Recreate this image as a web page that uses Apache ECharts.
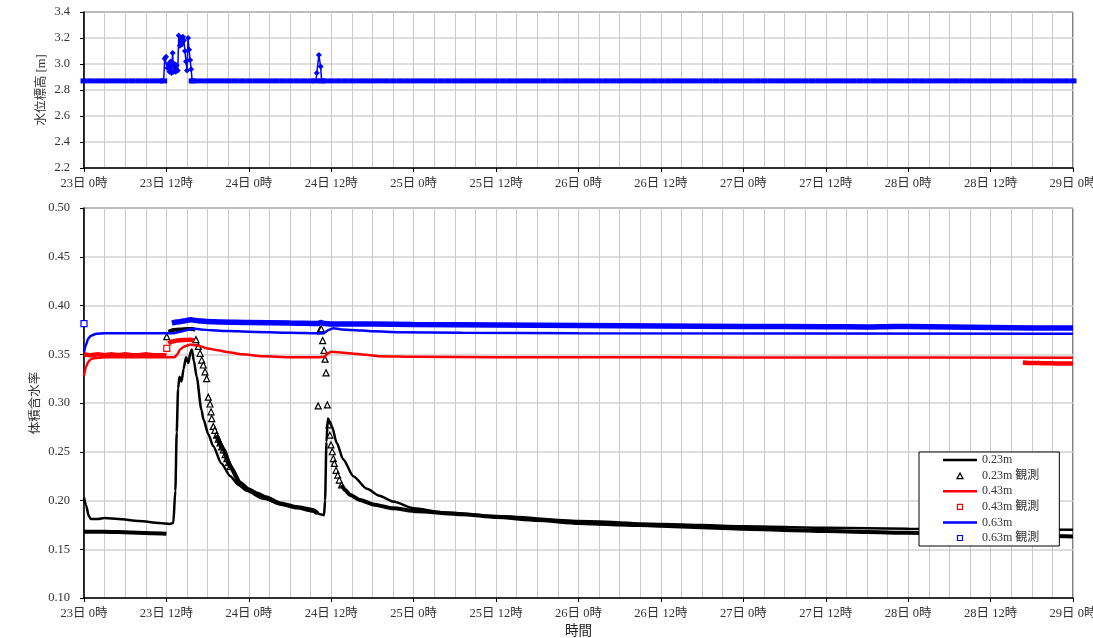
<!DOCTYPE html>
<html><head><meta charset="utf-8">
<script src="https://cdn.jsdelivr.net/npm/echarts@6/dist/echarts.min.js"></script>
<style>html,body{margin:0;padding:0;background:#fff;overflow:hidden}#c{width:1093px;height:638px}</style>
</head><body><div id="c"></div>
<script>
// ---- tick labels ----
const xTickLabels = ['23日 0時','23日 12時','24日 0時','24日 12時','25日 0時','25日 12時','26日 0時','26日 12時','27日 0時','27日 12時','28日 0時','28日 12時','29日 0時'];
const seriesNames = ['0.23m','0.23m 観測','0.43m','0.43m 観測','0.63m','0.63m 観測'];

// ---- water level [hours since 23日 0時, m] ----
const levelObs = [
[0,2.87],[1,2.87],[2,2.87],[3,2.87],[4,2.87],[5,2.87],[6,2.87],[7,2.87],[8,2.87],[9,2.87],[10,2.87],[11,2.87],
[11.6,2.87],[11.75,3.04],[11.95,3.055],[12.15,2.97],[12.3,3.0],[12.45,2.94],[12.6,3.02],[12.75,2.93],[12.9,3.085],[13.05,2.94],[13.2,3.0],[13.35,2.94],[13.5,2.99],[13.65,2.95],[13.8,3.22],[13.95,3.14],[14.1,3.2],[14.25,3.15],[14.4,3.21],[14.55,3.18],[14.7,3.1],[14.85,3.02],[15.0,2.95],[15.15,3.2],[15.3,3.11],[15.45,3.03],[15.6,2.96],[15.75,2.87],
[16,2.87],[17,2.87],[18,2.87],[19,2.87],[20,2.87],[21,2.87],[22,2.87],[23,2.87],[24,2.87],[25,2.87],[26,2.87],[27,2.87],[28,2.87],[29,2.87],[30,2.87],[31,2.87],[32,2.87],[33,2.87],
[33.75,2.87],[33.9,2.93],[34.2,3.07],[34.45,2.98],[34.6,2.87],
[35,2.87],[36,2.87],[37,2.87],[38,2.87],[39,2.87],[40,2.87],[41,2.87],[42,2.87],[43,2.87],[44,2.87],[45,2.87],[46,2.87],[47,2.87],[48,2.87],[49,2.87],[50,2.87],
[51,2.87],[52,2.87],[53,2.87],[54,2.87],[55,2.87],[56,2.87],[57,2.87],[58,2.87],[59,2.87],[60,2.87],[61,2.87],[62,2.87],[63,2.87],[64,2.87],[65,2.87],[66,2.87],
[67,2.87],[68,2.87],[69,2.87],[70,2.87],[71,2.87],[72,2.87],[73,2.87],[74,2.87],[75,2.87],[76,2.87],[77,2.87],[78,2.87],[79,2.87],[80,2.87],[81,2.87],[82,2.87],
[83,2.87],[84,2.87],[85,2.87],[86,2.87],[87,2.87],[88,2.87],[89,2.87],[90,2.87],[91,2.87],[92,2.87],[93,2.87],[94,2.87],[95,2.87],[96,2.87],[97,2.87],[98,2.87],
[99,2.87],[100,2.87],[101,2.87],[102,2.87],[103,2.87],[104,2.87],[105,2.87],[106,2.87],[107,2.87],[108,2.87],[109,2.87],[110,2.87],[111,2.87],[112,2.87],[113,2.87],[114,2.87],
[115,2.87],[116,2.87],[117,2.87],[118,2.87],[119,2.87],[120,2.87],[121,2.87],[122,2.87],[123,2.87],[124,2.87],[125,2.87],[126,2.87],[127,2.87],[128,2.87],[129,2.87],[130,2.87],
[131,2.87],[132,2.87],[133,2.87],[134,2.87],[135,2.87],[136,2.87],[137,2.87],[138,2.87],[139,2.87],[140,2.87],[141,2.87],[142,2.87],[143,2.87],[144,2.87]
];

// ---- simulated volumetric water content ----
const sim023 = [[0,0.203],[0.3,0.195],[0.7,0.184],[1,0.181],[2,0.181],[3,0.182],[5,0.181],[8,0.179],[11,0.177],[12.5,0.176],[13,0.177],[13.3,0.21],[13.5,0.27],[13.7,0.315],[13.9,0.327],[14.2,0.322],[14.5,0.335],[14.85,0.347],[15.2,0.341],[15.5,0.352],[15.7,0.355],[16.0,0.343],[16.4,0.327],[17.1,0.293],[17.4,0.283],[18.1,0.268],[18.8,0.256],[20,0.238],[21.3,0.225],[22.5,0.216],[23.7,0.21],[26,0.202],[28.5,0.197],[31,0.193],[33.3,0.189],[34.4,0.186],[34.95,0.185],[35.1,0.20],[35.3,0.26],[35.5,0.284],[35.8,0.281],[36.1,0.276],[36.8,0.259],[37.75,0.242],[39.2,0.225],[41.2,0.212],[43,0.205],[45,0.199],[48,0.192],[52,0.188],[60,0.184],[72,0.179],[84,0.176],[96,0.1735],[108,0.172],[120,0.171],[132,0.1705],[144,0.170]];
const sim043 = [[0,0.328],[0.3,0.337],[0.6,0.342],[1,0.345],[1.5,0.346],[3,0.347],[13.2,0.347],[13.6,0.350],[14,0.355],[14.6,0.358],[15.5,0.360],[16.5,0.359],[18,0.356],[19.5,0.354],[21,0.352],[23,0.350],[26,0.348],[30,0.347],[34,0.347],[35,0.3475],[35.5,0.351],[36,0.3525],[37,0.352],[38.5,0.351],[41,0.3495],[43,0.348],[48,0.3475],[60,0.347],[84,0.3468],[108,0.3466],[144,0.3465]];
const sim063 = [[0,0.352],[0.3,0.360],[0.6,0.366],[1,0.369],[1.8,0.371],[3,0.3715],[13,0.3715],[14,0.373],[15,0.375],[16,0.3762],[17,0.3755],[18.5,0.3745],[21,0.3738],[24,0.3732],[30,0.372],[34,0.3715],[35,0.372],[35.6,0.375],[36.3,0.3766],[37.5,0.3755],[39,0.375],[42,0.3735],[46,0.3725],[55,0.372],[72,0.3715],[144,0.371]];

// ---- observed volumetric water content ----
const obs023Band1 = [[0,0.168],[2,0.168],[4,0.1678],[6,0.1675],[8,0.167],[10,0.1665],[12,0.166]];
const obs023Band2 = [[12.3,0.373],[13,0.375],[14,0.3755],[15,0.376],[15.8,0.376],[16.2,0.375]];
const obs023Band3 = [[19.3,0.267],[20.3,0.252],[21.3,0.235],[22.7,0.218],[24,0.211],[25.2,0.207],[26.5,0.203],[28.5,0.197],[31,0.193],[33.3,0.190],[34.0,0.187]];
const obs023Band4 = [[37.5,0.216],[38,0.211],[38.7,0.206],[40.2,0.2005],[42.1,0.196],[45,0.192],[48.4,0.189],[55,0.186],[60,0.183],[66,0.180],[72,0.177],[78,0.1755],[84,0.174],[90,0.1725],[96,0.171],[102,0.1698],[108,0.1687],[114,0.1677],[120,0.1668],[126,0.166],[132,0.1652],[138,0.164],[144,0.163]];
const obs023Points = [[12.05,0.368],[16.3,0.365],[16.64,0.358],[16.9,0.351],[17.14,0.344],[17.37,0.339],[17.62,0.332],[17.86,0.325],[18.1,0.306],[18.35,0.299],[18.5,0.291],[18.6,0.284],[18.83,0.276],[19.05,0.272],[19.3,0.267],[19.55,0.263],[19.8,0.259],[20.05,0.255],[20.3,0.252],[20.55,0.247],[20.8,0.243],[21.05,0.239],[21.3,0.235],
[34.1,0.297],[34.35,0.375],[34.46,0.374],[34.55,0.376],[34.75,0.364],[34.95,0.354],[35.1,0.345],[35.24,0.331],[35.43,0.298],[35.67,0.2775],[35.8,0.267],[35.96,0.257],[36.15,0.250],[36.3,0.243],[36.45,0.238],[36.7,0.231],[36.94,0.226],[37.17,0.221],[37.5,0.216]];
const obs043Band1 = [[0,0.350],[1,0.349],[2,0.350],[3,0.349],[4,0.350],[5,0.349],[6,0.350],[7,0.349],[8,0.349],[9,0.350],[10,0.349],[11,0.349],[12,0.349]];
const obs043Band2 = [[12.3,0.361],[12.8,0.363],[13.5,0.364],[14.5,0.3645],[15.5,0.365],[16,0.364]];
const obs043Band3 = [[136.7,0.3415],[137.5,0.341],[138.5,0.341],[139.5,0.3408],[140.5,0.3408],[141.5,0.3405],[142.5,0.3405],[143.5,0.3405],[144,0.3405]];
const obs043Points = [[12.05,0.356]];
const obs063Band = [[12.8,0.382],[13.5,0.383],[14.5,0.384],[15.5,0.3855],[16,0.385],[17,0.384],[18,0.3835],[20,0.383],[24,0.3825],[30,0.382],[34,0.3815],[34.5,0.3825],[35,0.3815],[36,0.381],[42,0.381],[48,0.3805],[60,0.380],[72,0.3795],[84,0.379],[96,0.3785],[108,0.3783],[114,0.378],[118,0.3785],[120,0.3785],[126,0.378],[132,0.3775],[138,0.377],[144,0.377]];
const obs063Points = [[0,0.3815]];

// ---- chart ----
const FONT = '"Liberation Serif","DejaVu Serif","Noto Sans CJK JP",serif';
const TXT = '#333';
const chart = echarts.init(document.getElementById('c'), null, {renderer:'canvas'});

function xAxisCfg(gi, name) {
  return {
    type:'value', gridIndex:gi, min:0, max:144, interval:12,
    axisLine:{show:true, onZero:false, lineStyle:{color:'#000', width:1.5}},
    axisTick:{show:true, length:4, lineStyle:{color:'#000'}},
    axisLabel:{formatter:v => xTickLabels[Math.round(v/12)], fontFamily:FONT, fontSize:12.5, color:TXT, margin:9, showMaxLabel:true, hideOverlap:false},
    splitLine:{show:true, lineStyle:{color:'#c8c8c8', width:1}},
    minorTick:{show:false, splitNumber:4},
    minorSplitLine:{show:true, lineStyle:{color:'#c8c8c8', width:1}},
    name:name, nameLocation:'middle', nameGap:27, nameMoveOverlap:false,
    nameTextStyle:{fontFamily:FONT, fontSize:13.5, color:'#222'}
  };
}
function yAxisCfg(gi, min, max, iv, dec, name, gap) {
  return {
    type:'value', gridIndex:gi, min:min, max:max, interval:iv,
    axisLine:{show:true, lineStyle:{color:'#000', width:1.5}},
    axisTick:{show:true, length:4, lineStyle:{color:'#000'}},
    axisLabel:{formatter:v => v.toFixed(dec), fontFamily:FONT, fontSize:12.5, color:TXT, margin:14},
    splitLine:{show:true, lineStyle:{color:'#d2d2d2', width:1.5}},
    name:name, nameLocation:'middle', nameGap:gap, nameRotate:90, nameMoveOverlap:false,
    nameTextStyle:{fontFamily:FONT, fontSize:12.5, color:TXT}
  };
}
function simLine(name, data, color) {
  return {type:'line', name, data, xAxisIndex:1, yAxisIndex:1, showSymbol:false, symbol:'none',
    smooth:0.25, smoothMonotone:'x',
    lineStyle:{color, width:2.5}, itemStyle:{color}, silent:true, animation:false};
}
function band(name, data, color, w) {
  return {type:'line', name, data, xAxisIndex:1, yAxisIndex:1, showSymbol:false, symbol:'none',
    smooth:0.2, smoothMonotone:'x',
    lineStyle:{color, width:w}, itemStyle:{color}, silent:true, animation:false};
}
function pts(name, data, color, symbol) {
  return {type:'scatter', name, data, xAxisIndex:1, yAxisIndex:1, symbol, symbolSize:6,
    itemStyle:{color:'#fff', borderColor:color, borderWidth:1.2, opacity:1}, silent:true, animation:false};
}

const LINE_ICON = 'path://M0,0h34v2.5h-34z';
const TRI_ICON = 'path://M0,0M8,8M1,7L4,1.5L7,7Z';
const SQ_ICON = 'path://M0,0M8,8M1.5,1.5h5v5h-5z';
const legendColors = ['#000','#000','#ff0000','#ff0000','#0000ff','#0000ff'];
const legendIcons = [LINE_ICON, TRI_ICON, LINE_ICON, SQ_ICON, LINE_ICON, SQ_ICON];

chart.setOption({
  animation:false,
  backgroundColor:'#fff',
  grid:[
    {left:84, right:20, top:12, height:156, show:true, borderColor:'#000', borderWidth:1, backgroundColor:'transparent', containLabel:false, outerBoundsMode:'none'},
    {left:84, right:20, top:208, height:390, show:true, borderColor:'#000', borderWidth:1, backgroundColor:'transparent', containLabel:false, outerBoundsMode:'none'}
  ],
  xAxis:[xAxisCfg(0,''), xAxisCfg(1,'時間')],
  yAxis:[yAxisCfg(0,2.2,3.4,0.2,1,'水位標高 [m]',36), yAxisCfg(1,0.1,0.5,0.05,2,'体積含水率',42)],
  legend:{
    left:919, top:452, orient:'vertical', backgroundColor:'#fff', borderColor:'#000', borderWidth:1,
    padding:[1.5,20,1.5,24], itemGap:2.6, itemWidth:34, itemHeight:8, selectedMode:false,
    textStyle:{fontFamily:FONT, fontSize:12, color:TXT, lineHeight:13},
    data: seriesNames.map((n,i) => {
      const isObs = i % 2 === 1;
      return {name:n, icon:legendIcons[i],
        itemStyle: isObs ? {color:'#fff', borderColor:legendColors[i], borderWidth:1.2}
                         : {color:legendColors[i], borderWidth:0}};
    })
  },
  series:[
    {type:'line', name:'水位', data:levelObs, xAxisIndex:0, yAxisIndex:0,
     symbol:v => v[1] < 2.875 ? 'rect' : 'diamond',
     symbolSize:v => v[1] < 2.875 ? [7,5] : 6,
     showAllSymbol:true, lineStyle:{color:'#0000ff', width:1.5}, itemStyle:{color:'#0000ff'}, silent:true, animation:false},
    simLine(seriesNames[0], sim023, '#000'),
    band(seriesNames[1], obs023Band1, '#000', 4),
    band(seriesNames[1], obs023Band2, '#000', 4),
    band(seriesNames[1], obs023Band3, '#000', 4.5),
    band(seriesNames[1], obs023Band4, '#000', 4),
    pts(seriesNames[1], obs023Points, '#000', 'triangle'),
    simLine(seriesNames[2], sim043, '#ff0000'),
    band(seriesNames[3], obs043Band1, '#ff0000', 4.5),
    band(seriesNames[3], obs043Band2, '#ff0000', 4.5),
    band(seriesNames[3], obs043Band3, '#ff0000', 4.5),
    pts(seriesNames[3], obs043Points, '#ff0000', 'rect'),
    simLine(seriesNames[4], sim063, '#0000ff'),
    band(seriesNames[5], obs063Band, '#0000ff', 5.5),
    pts(seriesNames[5], obs063Points, '#0000ff', 'rect')
  ]
});
</script></body></html>
